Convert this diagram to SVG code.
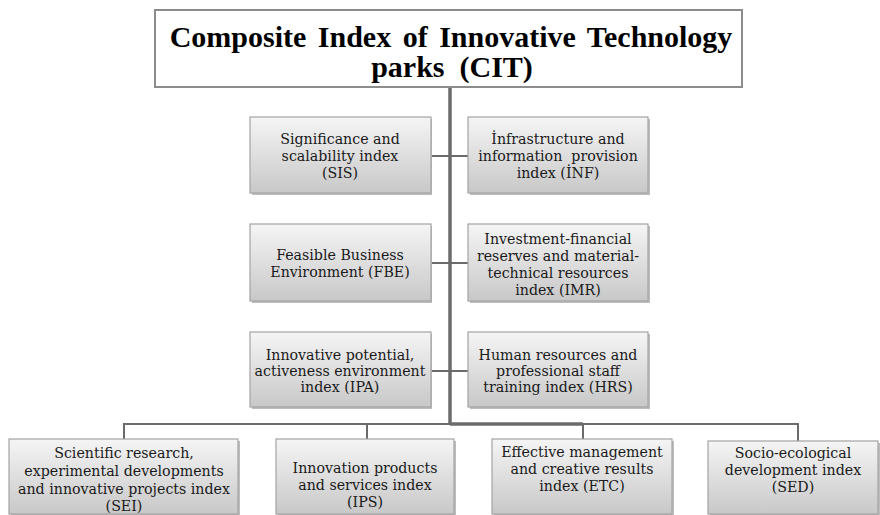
<svg xmlns="http://www.w3.org/2000/svg" width="880" height="515" viewBox="0 0 880 515">
<defs>
<linearGradient id="g" x1="0" y1="0" x2="0" y2="1">
<stop offset="0" stop-color="#f5f5f5"/>
<stop offset="1" stop-color="#c8c8c8"/>
</linearGradient>
</defs>
<style>
.box{fill:url(#g);stroke:#a3a3a3;stroke-width:1.2}
.sh{fill:#bdbdbd}
.t{font-family:"DejaVu Serif","Liberation Serif",serif;font-size:14.2px;fill:#1a1a1a;text-anchor:middle}
.title{font-family:"Liberation Serif","Times New Roman",serif;font-size:30px;font-weight:bold;fill:#000;text-anchor:middle}
.ln{stroke:#6b6b6b;stroke-width:2;fill:none}
.thick{stroke:#6b6b6b;stroke-width:3.5;fill:none}
</style>
<rect width="880" height="515" fill="#ffffff"/>
<g id="connectors">
<line class="thick" x1="450" y1="87" x2="450" y2="425"/>
<line class="ln" x1="431" y1="156" x2="468" y2="156"/>
<line class="ln" x1="431" y1="263" x2="468" y2="263"/>
<line class="ln" x1="431" y1="371" x2="468" y2="371"/>
<line class="ln" x1="124" y1="424" x2="798" y2="424"/>
<line class="thick" x1="450" y1="424" x2="583" y2="424"/>
<line class="ln" x1="124" y1="423" x2="124" y2="439"/>
<line class="ln" x1="367" y1="423" x2="367" y2="439"/>
<line class="ln" x1="583" y1="423" x2="583" y2="439"/>
<line class="ln" x1="798" y1="423" x2="798" y2="441"/>
</g>
<g id="CIT">
<rect x="155" y="10" width="587" height="77" fill="#fff" stroke="#8c8c8c" stroke-width="2"/>
<text class="title" x="451" y="47" word-spacing="4">Composite Index of Innovative Technology</text>
<text class="title" x="452" y="77" xml:space="preserve">parks  (CIT)</text>
</g>
<g id="SIS">
<rect class="sh" x="252" y="119" width="180" height="76"/>
<rect class="box" x="250" y="117" width="181" height="76"/>
<text class="t" x="340" y="144">Significance and</text>
<text class="t" x="340" y="161">scalability index</text>
<text class="t" x="340" y="178">(SIS)</text>
</g>
<g id="INF">
<rect class="sh" x="470" y="119" width="180" height="76"/>
<rect class="box" x="468" y="117" width="180" height="76"/>
<text class="t" x="558" y="144">İnfrastructure and</text>
<text class="t" x="558" y="161" xml:space="preserve">information  provision</text>
<text class="t" x="558" y="178">index (İNF)</text>
</g>
<g id="FBE">
<rect class="sh" x="252" y="226" width="180" height="77"/>
<rect class="box" x="250" y="224" width="181" height="77"/>
<text class="t" x="340" y="260">Feasible Business</text>
<text class="t" x="340" y="277">Environment (FBE)</text>
</g>
<g id="IMR">
<rect class="sh" x="470" y="226" width="180" height="77"/>
<rect class="box" x="468" y="224" width="180" height="77"/>
<text class="t" x="558" y="244">Investment-financial</text>
<text class="t" x="558" y="261">reserves and material-</text>
<text class="t" x="558" y="278">technical resources</text>
<text class="t" x="558" y="295">index (IMR)</text>
</g>
<g id="IPA">
<rect class="sh" x="252" y="334" width="180" height="75"/>
<rect class="box" x="250" y="332" width="181" height="75"/>
<text class="t" x="340" y="360">Innovative potential,</text>
<text class="t" x="340" y="376">activeness environment</text>
<text class="t" x="340" y="392">index (IPA)</text>
</g>
<g id="HRS">
<rect class="sh" x="470" y="334" width="180" height="75"/>
<rect class="box" x="468" y="332" width="180" height="75"/>
<text class="t" x="558" y="360">Human resources and</text>
<text class="t" x="558" y="376">professional staff</text>
<text class="t" x="558" y="392">training index (HRS)</text>
</g>
<g id="SEI">
<rect class="sh" x="11" y="441" width="229" height="75"/>
<rect class="box" x="9" y="439" width="229" height="75"/>
<text class="t" x="124" y="458">Scientific research,</text>
<text class="t" x="124" y="476">experimental developments</text>
<text class="t" x="124" y="494">and innovative projects index</text>
<text class="t" x="124" y="511">(SEI)</text>
</g>
<g id="IPS">
<rect class="sh" x="278" y="441" width="178" height="75"/>
<rect class="box" x="276" y="439" width="178" height="75"/>
<text class="t" x="365" y="473">Innovation products</text>
<text class="t" x="365" y="490">and services index</text>
<text class="t" x="365" y="507">(IPS)</text>
</g>
<g id="ETC">
<rect class="sh" x="494" y="441" width="180" height="75"/>
<rect class="box" x="492" y="439" width="180" height="75"/>
<text class="t" x="582" y="457">Effective management</text>
<text class="t" x="582" y="474">and creative results</text>
<text class="t" x="582" y="491">index (ETC)</text>
</g>
<g id="SED">
<rect class="sh" x="710" y="443" width="170" height="73"/>
<rect class="box" x="708" y="441" width="170" height="73"/>
<text class="t" x="793" y="458">Socio-ecological</text>
<text class="t" x="793" y="475">development index</text>
<text class="t" x="793" y="492">(SED)</text>
</g>
</svg>
